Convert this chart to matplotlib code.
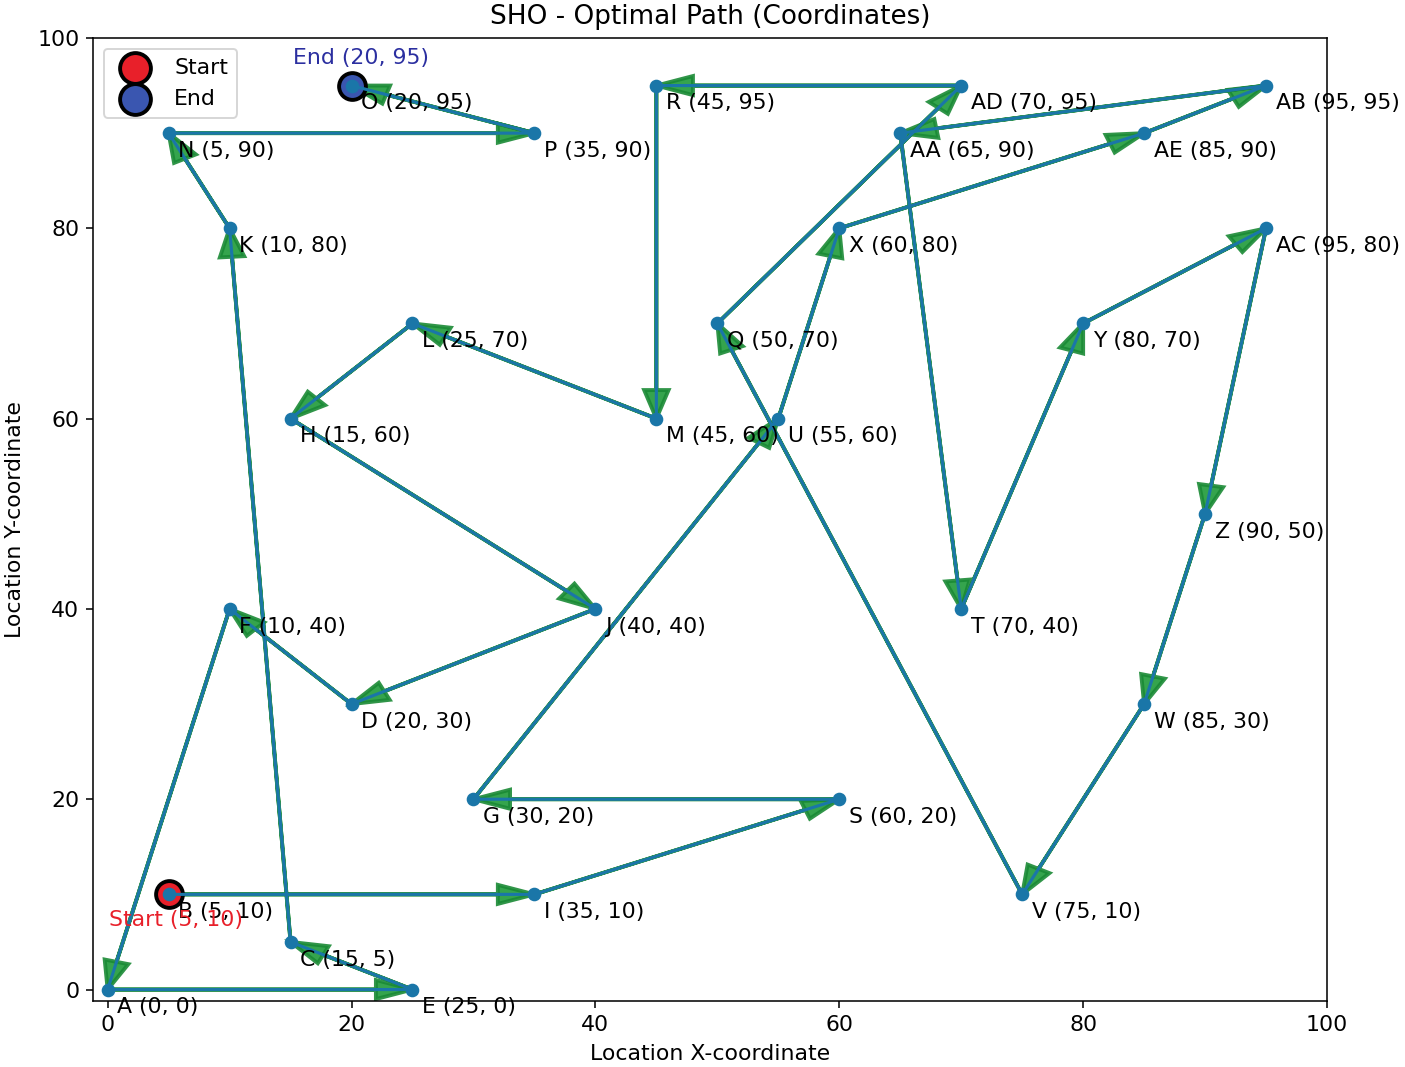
import numpy as np
import matplotlib
matplotlib.use("Agg")
import matplotlib.pyplot as plt

# Location names and coordinates
names = ["A", "B", "C", "D", "E", "F", "G", "H", "I", "J", "K", "L", "M", "N", "O",
         "P", "Q", "R", "S", "T", "U", "V", "W", "X", "Y", "Z",
         "AA", "AB", "AC", "AD", "AE"]
xs = [0, 5, 15, 20, 25, 10, 30, 15, 35, 40, 10, 25, 45, 5, 20,
      35, 50, 45, 60, 70, 55, 75, 85, 60, 80, 90,
      65, 95, 95, 70, 85]
ys = [0, 10, 5, 30, 0, 40, 20, 60, 10, 40, 80, 70, 60, 90, 95,
      90, 70, 95, 20, 40, 60, 10, 30, 80, 70, 50,
      90, 95, 80, 95, 90]

# Visiting order found by SHO
path = ["B", "I", "S", "G", "U", "X", "AE", "AB", "AA", "T", "Y", "AC", "Z", "W",
        "V", "Q", "AD", "R", "M", "L", "H", "J", "D", "F", "A", "E", "C", "K",
        "N", "P", "O"]

coords = {n: (x, y) for n, x, y in zip(names, xs, ys)}
px = np.array([coords[n][0] for n in path])
py = np.array([coords[n][1] for n in path])

plt.rcParams['font.size'] = 11.3
plt.rcParams['axes.titlesize'] = 13.5

fig = plt.figure(figsize=(1405 / 140, 1067 / 140), dpi=140)
ax = fig.add_axes([0.0662, 0.0619, 0.8783, 0.9025])

# arrows between consecutive stops
for i in range(len(path) - 1):
    ax.arrow(px[i], py[i], px[i + 1] - px[i], py[i + 1] - py[i],
             head_width=2, head_length=3, length_includes_head=True,
             fc='#1f9a3a', ec='#1a8a35', linewidth=2.0, alpha=0.9)

ax.plot(px, py, '-o', color='#1a76a8', linewidth=1.6, markersize=6)

# start / end markers
ax.scatter(px[0], py[0], s=190, color='#e8202a', edgecolors='black',
           linewidths=2, label='Start', zorder=1.5)
ax.scatter(px[-1], py[-1], s=190, color='#3a56b0', edgecolors='black',
           linewidths=2, label='End', zorder=1.5)

for n, x, y in zip(names, xs, ys):
    ax.annotate(f"{n} ({x}, {y})", (x, y), xytext=(5, -4),
                textcoords='offset points', va='top')

ax.annotate(f"Start ({px[0]}, {py[0]})", (px[0], py[0]), xytext=(4, -8),
            textcoords='offset points', ha='center', va='top',
            color='#e8202a')
ax.annotate(f"End ({px[-1]}, {py[-1]})", (px[-1], py[-1]), xytext=(5, 9),
            textcoords='offset points', ha='center', va='bottom',
            color='#2b2fa0')

ax.set_xlim(-1.2, 100)
ax.set_ylim(-1.2, 100)
ax.set_xticks([0, 20, 40, 60, 80, 100])
ax.set_yticks([0, 20, 40, 60, 80, 100])
ax.set_title("SHO - Optimal Path (Coordinates)", pad=7)
ax.set_xlabel("Location X-coordinate", labelpad=5)
ax.set_ylabel("Location Y-coordinate", labelpad=6)
ax.legend(loc='upper left', markerscale=1.15)

fig.savefig("out.png", dpi=140)
